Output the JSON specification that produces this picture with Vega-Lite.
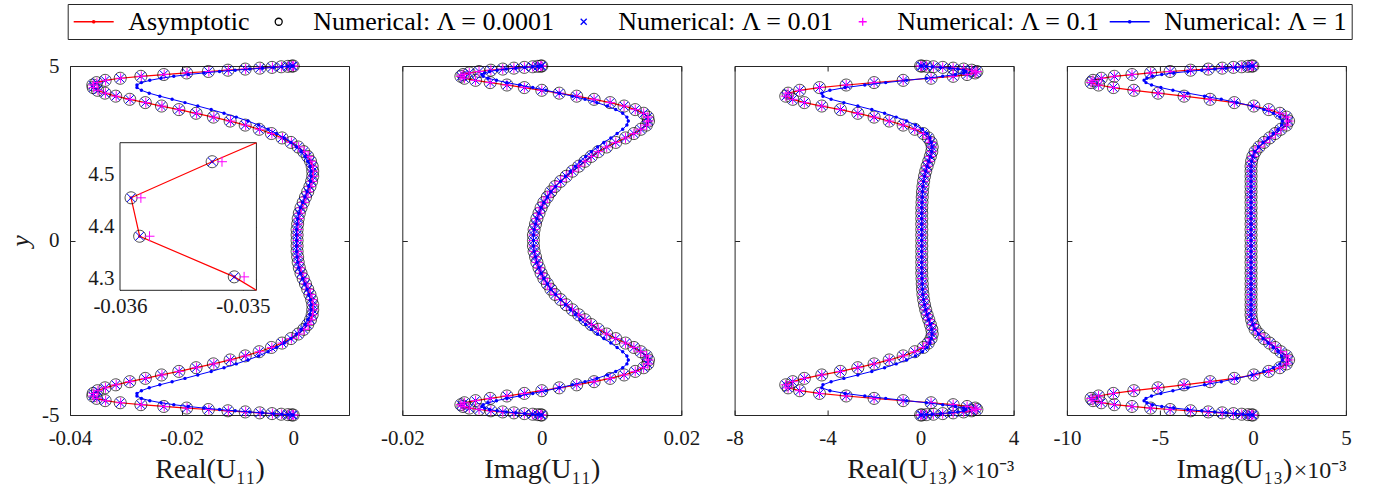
{
"$schema": "https://vega.github.io/schema/vega-lite/v6.json",
"padding": {"left": 7, "top": 3, "right": 5, "bottom": 5},
"background": "white",
"datasets": {"u": [
{"y":5,"a1":0,"p1":0.00008,"b1":0,"a2":0,"b2":0,"a3":0,"b3":0,"a4":0,"b4":0},
{"y":4.9975,"a1":-0.00024,"p1":-0.00016,"b1":-0.00022,"a2":-0.00015,"b2":-0.00015,"a3":0.06,"b3":0.05,"a4":-0.07,"b4":-0.06},
{"y":4.9901,"a1":-0.00096,"p1":-0.00088,"b1":-0.0009,"a2":-0.0006,"b2":-0.0006,"a3":0.25,"b3":0.23,"a4":-0.27,"b4":-0.24},
{"y":4.9778,"a1":-0.00215,"p1":-0.00207,"b1":-0.002,"a2":-0.0013,"b2":-0.0013,"a3":0.55,"b3":0.5,"a4":-0.6,"b4":-0.53},
{"y":4.9606,"a1":-0.0038,"p1":-0.00372,"b1":-0.0035,"a2":-0.0025,"b2":-0.0024,"a3":0.95,"b3":0.85,"a4":-1.05,"b4":-0.93},
{"y":4.9384,"a1":-0.006,"p1":-0.00592,"b1":-0.0055,"a2":-0.004,"b2":-0.0037,"a3":1.4,"b3":1.25,"a4":-1.65,"b4":-1.45},
{"y":4.9114,"a1":-0.0086,"p1":-0.00852,"b1":-0.0078,"a2":-0.0056,"b2":-0.0051,"a3":1.85,"b3":1.6,"a4":-2.4,"b4":-2.05},
{"y":4.8796,"a1":-0.0117,"p1":-0.01162,"b1":-0.0104,"a2":-0.0073,"b2":-0.0064,"a3":2.2,"b3":1.85,"a4":-3.35,"b4":-2.75},
{"y":4.8429,"a1":-0.0152,"p1":-0.01512,"b1":-0.0132,"a2":-0.009,"b2":-0.0075,"a3":2.42,"b3":1.95,"a4":-4.45,"b4":-3.5},
{"y":4.8015,"a1":-0.0191,"p1":-0.01902,"b1":-0.016,"a2":-0.0104,"b2":-0.0082,"a3":2.35,"b3":1.85,"a4":-5.5,"b4":-4.25},
{"y":4.7553,"a1":-0.0232,"p1":-0.02312,"b1":-0.0188,"a2":-0.0113,"b2":-0.0086,"a3":2.0,"b3":1.5,"a4":-6.5,"b4":-4.9},
{"y":4.7044,"a1":-0.0273,"p1":-0.02722,"b1":-0.0214,"a2":-0.0116,"b2":-0.0084,"a3":1.4,"b3":0.95,"a4":-7.45,"b4":-5.4},
{"y":4.6489,"a1":-0.031,"p1":-0.03092,"b1":-0.0237,"a2":-0.0111,"b2":-0.0077,"a3":0.45,"b3":0.25,"a4":-8.15,"b4":-5.7},
{"y":4.5888,"a1":-0.0337,"p1":-0.03362,"b1":-0.0257,"a2":-0.0095,"b2":-0.0065,"a3":-0.75,"b3":-0.6,"a4":-8.6,"b4":-5.85},
{"y":4.5241,"a1":-0.03525,"p1":-0.03517,"b1":-0.0272,"a2":-0.0074,"b2":-0.005,"a3":-2.0,"b3":-1.5,"a4":-8.7,"b4":-5.75},
{"y":4.455,"a1":-0.03591,"p1":-0.03583,"b1":-0.028,"a2":-0.005,"b2":-0.0032,"a3":-3.2,"b3":-2.4,"a4":-8.3,"b4":-5.45},
{"y":4.3815,"a1":-0.03584,"p1":-0.03576,"b1":-0.028,"a2":-0.0025,"b2":-0.0013,"a3":-4.35,"b3":-3.25,"a4":-7.5,"b4":-4.95},
{"y":4.3037,"a1":-0.03507,"p1":-0.03499,"b1":-0.0272,"a2":0,"b2":0.0006,"a3":-5.2,"b3":-3.9,"a4":-6.4,"b4":-4.3},
{"y":4.2216,"a1":-0.03373,"p1":-0.03365,"b1":-0.0258,"a2":0.0025,"b2":0.0025,"a3":-5.7,"b3":-4.25,"a4":-5.1,"b4":-3.5},
{"y":4.1354,"a1":-0.0318,"p1":-0.03172,"b1":-0.0239,"a2":0.005,"b2":0.0044,"a3":-5.8,"b3":-4.2,"a4":-3.7,"b4":-2.6},
{"y":4.0451,"a1":-0.0293,"p1":-0.02922,"b1":-0.0217,"a2":0.0075,"b2":0.0062,"a3":-5.5,"b3":-3.85,"a4":-2.3,"b4":-1.7},
{"y":3.9508,"a1":-0.0265,"p1":-0.02642,"b1":-0.0194,"a2":0.0098,"b2":0.0079,"a3":-5.0,"b3":-3.3,"a4":-1.0,"b4":-0.85},
{"y":3.8526,"a1":-0.0236,"p1":-0.02352,"b1":-0.0171,"a2":0.0118,"b2":0.0094,"a3":-4.25,"b3":-2.7,"a4":0.05,"b4":-0.05},
{"y":3.7505,"a1":-0.0205,"p1":-0.02042,"b1":-0.0147,"a2":0.0134,"b2":0.0106,"a3":-3.45,"b3":-2.1,"a4":0.85,"b4":0.6},
{"y":3.6448,"a1":-0.0174,"p1":-0.01732,"b1":-0.0124,"a2":0.0146,"b2":0.0116,"a3":-2.7,"b3":-1.55,"a4":1.45,"b4":1.1},
{"y":3.5355,"a1":-0.0143,"p1":-0.01422,"b1":-0.0102,"a2":0.0152,"b2":0.0122,"a3":-2.0,"b3":-1.05,"a4":1.8,"b4":1.45},
{"y":3.4227,"a1":-0.0113,"p1":-0.01122,"b1":-0.0081,"a2":0.0153,"b2":0.0124,"a3":-1.35,"b3":-0.6,"a4":1.92,"b4":1.58},
{"y":3.3066,"a1":-0.0086,"p1":-0.00852,"b1":-0.0062,"a2":0.015,"b2":0.0122,"a3":-0.75,"b3":-0.22,"a4":1.8,"b4":1.55},
{"y":3.1871,"a1":-0.0061,"p1":-0.00602,"b1":-0.0045,"a2":0.0142,"b2":0.0116,"a3":-0.25,"b3":0.08,"a4":1.5,"b4":1.35},
{"y":3.0645,"a1":-0.0039,"p1":-0.00382,"b1":-0.003,"a2":0.0132,"b2":0.0108,"a3":0.12,"b3":0.28,"a4":1.2,"b4":1.1},
{"y":2.9389,"a1":-0.002,"p1":-0.00192,"b1":-0.0016,"a2":0.012,"b2":0.0099,"a3":0.33,"b3":0.4,"a4":0.9,"b4":0.82},
{"y":2.8104,"a1":-0.0004,"p1":-0.00032,"b1":-0.0004,"a2":0.0106,"b2":0.0089,"a3":0.45,"b3":0.46,"a4":0.6,"b4":0.55},
{"y":2.6791,"a1":0.0009,"p1":0.00098,"b1":0.0006,"a2":0.0093,"b2":0.008,"a3":0.5,"b3":0.49,"a4":0.33,"b4":0.3},
{"y":2.5452,"a1":0.0019,"p1":0.00198,"b1":0.0014,"a2":0.0081,"b2":0.0071,"a3":0.48,"b3":0.48,"a4":0.12,"b4":0.1},
{"y":2.4088,"a1":0.0026,"p1":0.00268,"b1":0.0021,"a2":0.0071,"b2":0.0063,"a3":0.42,"b3":0.42,"a4":0,"b4":0},
{"y":2.27,"a1":0.0031,"p1":0.00318,"b1":0.0026,"a2":0.0062,"b2":0.0055,"a3":0.35,"b3":0.35,"a4":-0.07,"b4":-0.07},
{"y":2.1289,"a1":0.0034,"p1":0.00348,"b1":0.003,"a2":0.0053,"b2":0.0048,"a3":0.28,"b3":0.28,"a4":-0.1,"b4":-0.1},
{"y":1.9857,"a1":0.0035,"p1":0.00358,"b1":0.0032,"a2":0.0044,"b2":0.0041,"a3":0.22,"b3":0.22,"a4":-0.1,"b4":-0.1},
{"y":1.8406,"a1":0.0035,"p1":0.00358,"b1":0.0032,"a2":0.0035,"b2":0.0034,"a3":0.17,"b3":0.17,"a4":-0.1,"b4":-0.1},
{"y":1.6937,"a1":0.0033,"p1":0.00338,"b1":0.0031,"a2":0.0027,"b2":0.0027,"a3":0.13,"b3":0.13,"a4":-0.1,"b4":-0.1},
{"y":1.5451,"a1":0.003,"p1":0.00308,"b1":0.0028,"a2":0.0019,"b2":0.002,"a3":0.1,"b3":0.1,"a4":-0.1,"b4":-0.1},
{"y":1.395,"a1":0.0026,"p1":0.00268,"b1":0.0025,"a2":0.0013,"b2":0.0013,"a3":0.08,"b3":0.08,"a4":-0.1,"b4":-0.1},
{"y":1.2434,"a1":0.0022,"p1":0.00228,"b1":0.0021,"a2":0.0008,"b2":0.0008,"a3":0.07,"b3":0.07,"a4":-0.1,"b4":-0.1},
{"y":1.0907,"a1":0.0018,"p1":0.00188,"b1":0.0017,"a2":0.0003,"b2":0.0003,"a3":0.06,"b3":0.06,"a4":-0.1,"b4":-0.1},
{"y":0.9369,"a1":0.0014,"p1":0.00148,"b1":0.0013,"a2":-0.0001,"b2":-0.0001,"a3":0.05,"b3":0.05,"a4":-0.1,"b4":-0.1},
{"y":0.7822,"a1":0.0011,"p1":0.00118,"b1":0.001,"a2":-0.0004,"b2":-0.0004,"a3":0.05,"b3":0.05,"a4":-0.1,"b4":-0.1},
{"y":0.6267,"a1":0.0009,"p1":0.00098,"b1":0.0008,"a2":-0.0007,"b2":-0.0007,"a3":0.05,"b3":0.05,"a4":-0.1,"b4":-0.1},
{"y":0.4705,"a1":0.0008,"p1":0.00088,"b1":0.0007,"a2":-0.0009,"b2":-0.0009,"a3":0.05,"b3":0.05,"a4":-0.1,"b4":-0.1},
{"y":0.314,"a1":0.0007,"p1":0.00078,"b1":0.0006,"a2":-0.0011,"b2":-0.0011,"a3":0.05,"b3":0.05,"a4":-0.1,"b4":-0.1},
{"y":0.1571,"a1":0.0007,"p1":0.00078,"b1":0.0006,"a2":-0.0012,"b2":-0.0012,"a3":0.05,"b3":0.05,"a4":-0.1,"b4":-0.1},
{"y":0,"a1":0.0007,"p1":0.00078,"b1":0.0006,"a2":-0.0012,"b2":-0.0012,"a3":0.05,"b3":0.05,"a4":-0.1,"b4":-0.1},
{"y":-0.1571,"a1":0.0007,"p1":0.00078,"b1":0.0006,"a2":-0.0012,"b2":-0.0012,"a3":0.05,"b3":0.05,"a4":-0.1,"b4":-0.1},
{"y":-0.314,"a1":0.0007,"p1":0.00078,"b1":0.0006,"a2":-0.0011,"b2":-0.0011,"a3":0.05,"b3":0.05,"a4":-0.1,"b4":-0.1},
{"y":-0.4705,"a1":0.0008,"p1":0.00088,"b1":0.0007,"a2":-0.0009,"b2":-0.0009,"a3":0.05,"b3":0.05,"a4":-0.1,"b4":-0.1},
{"y":-0.6267,"a1":0.0009,"p1":0.00098,"b1":0.0008,"a2":-0.0007,"b2":-0.0007,"a3":0.05,"b3":0.05,"a4":-0.1,"b4":-0.1},
{"y":-0.7822,"a1":0.0011,"p1":0.00118,"b1":0.001,"a2":-0.0004,"b2":-0.0004,"a3":0.05,"b3":0.05,"a4":-0.1,"b4":-0.1},
{"y":-0.9369,"a1":0.0014,"p1":0.00148,"b1":0.0013,"a2":-0.0001,"b2":-0.0001,"a3":0.05,"b3":0.05,"a4":-0.1,"b4":-0.1},
{"y":-1.0907,"a1":0.0018,"p1":0.00188,"b1":0.0017,"a2":0.0003,"b2":0.0003,"a3":0.06,"b3":0.06,"a4":-0.1,"b4":-0.1},
{"y":-1.2434,"a1":0.0022,"p1":0.00228,"b1":0.0021,"a2":0.0008,"b2":0.0008,"a3":0.07,"b3":0.07,"a4":-0.1,"b4":-0.1},
{"y":-1.395,"a1":0.0026,"p1":0.00268,"b1":0.0025,"a2":0.0013,"b2":0.0013,"a3":0.08,"b3":0.08,"a4":-0.1,"b4":-0.1},
{"y":-1.5451,"a1":0.003,"p1":0.00308,"b1":0.0028,"a2":0.0019,"b2":0.002,"a3":0.1,"b3":0.1,"a4":-0.1,"b4":-0.1},
{"y":-1.6937,"a1":0.0033,"p1":0.00338,"b1":0.0031,"a2":0.0027,"b2":0.0027,"a3":0.13,"b3":0.13,"a4":-0.1,"b4":-0.1},
{"y":-1.8406,"a1":0.0035,"p1":0.00358,"b1":0.0032,"a2":0.0035,"b2":0.0034,"a3":0.17,"b3":0.17,"a4":-0.1,"b4":-0.1},
{"y":-1.9857,"a1":0.0035,"p1":0.00358,"b1":0.0032,"a2":0.0044,"b2":0.0041,"a3":0.22,"b3":0.22,"a4":-0.1,"b4":-0.1},
{"y":-2.1289,"a1":0.0034,"p1":0.00348,"b1":0.003,"a2":0.0053,"b2":0.0048,"a3":0.28,"b3":0.28,"a4":-0.1,"b4":-0.1},
{"y":-2.27,"a1":0.0031,"p1":0.00318,"b1":0.0026,"a2":0.0062,"b2":0.0055,"a3":0.35,"b3":0.35,"a4":-0.07,"b4":-0.07},
{"y":-2.4088,"a1":0.0026,"p1":0.00268,"b1":0.0021,"a2":0.0071,"b2":0.0063,"a3":0.42,"b3":0.42,"a4":0,"b4":0},
{"y":-2.5452,"a1":0.0019,"p1":0.00198,"b1":0.0014,"a2":0.0081,"b2":0.0071,"a3":0.48,"b3":0.48,"a4":0.12,"b4":0.1},
{"y":-2.6791,"a1":0.0009,"p1":0.00098,"b1":0.0006,"a2":0.0093,"b2":0.008,"a3":0.5,"b3":0.49,"a4":0.33,"b4":0.3},
{"y":-2.8104,"a1":-0.0004,"p1":-0.00032,"b1":-0.0004,"a2":0.0106,"b2":0.0089,"a3":0.45,"b3":0.46,"a4":0.6,"b4":0.55},
{"y":-2.9389,"a1":-0.002,"p1":-0.00192,"b1":-0.0016,"a2":0.012,"b2":0.0099,"a3":0.33,"b3":0.4,"a4":0.9,"b4":0.82},
{"y":-3.0645,"a1":-0.0039,"p1":-0.00382,"b1":-0.003,"a2":0.0132,"b2":0.0108,"a3":0.12,"b3":0.28,"a4":1.2,"b4":1.1},
{"y":-3.1871,"a1":-0.0061,"p1":-0.00602,"b1":-0.0045,"a2":0.0142,"b2":0.0116,"a3":-0.25,"b3":0.08,"a4":1.5,"b4":1.35},
{"y":-3.3066,"a1":-0.0086,"p1":-0.00852,"b1":-0.0062,"a2":0.015,"b2":0.0122,"a3":-0.75,"b3":-0.22,"a4":1.8,"b4":1.55},
{"y":-3.4227,"a1":-0.0113,"p1":-0.01122,"b1":-0.0081,"a2":0.0153,"b2":0.0124,"a3":-1.35,"b3":-0.6,"a4":1.92,"b4":1.58},
{"y":-3.5355,"a1":-0.0143,"p1":-0.01422,"b1":-0.0102,"a2":0.0152,"b2":0.0122,"a3":-2.0,"b3":-1.05,"a4":1.8,"b4":1.45},
{"y":-3.6448,"a1":-0.0174,"p1":-0.01732,"b1":-0.0124,"a2":0.0146,"b2":0.0116,"a3":-2.7,"b3":-1.55,"a4":1.45,"b4":1.1},
{"y":-3.7505,"a1":-0.0205,"p1":-0.02042,"b1":-0.0147,"a2":0.0134,"b2":0.0106,"a3":-3.45,"b3":-2.1,"a4":0.85,"b4":0.6},
{"y":-3.8526,"a1":-0.0236,"p1":-0.02352,"b1":-0.0171,"a2":0.0118,"b2":0.0094,"a3":-4.25,"b3":-2.7,"a4":0.05,"b4":-0.05},
{"y":-3.9508,"a1":-0.0265,"p1":-0.02642,"b1":-0.0194,"a2":0.0098,"b2":0.0079,"a3":-5.0,"b3":-3.3,"a4":-1.0,"b4":-0.85},
{"y":-4.0451,"a1":-0.0293,"p1":-0.02922,"b1":-0.0217,"a2":0.0075,"b2":0.0062,"a3":-5.5,"b3":-3.85,"a4":-2.3,"b4":-1.7},
{"y":-4.1354,"a1":-0.0318,"p1":-0.03172,"b1":-0.0239,"a2":0.005,"b2":0.0044,"a3":-5.8,"b3":-4.2,"a4":-3.7,"b4":-2.6},
{"y":-4.2216,"a1":-0.03373,"p1":-0.03365,"b1":-0.0258,"a2":0.0025,"b2":0.0025,"a3":-5.7,"b3":-4.25,"a4":-5.1,"b4":-3.5},
{"y":-4.3037,"a1":-0.03507,"p1":-0.03499,"b1":-0.0272,"a2":0,"b2":0.0006,"a3":-5.2,"b3":-3.9,"a4":-6.4,"b4":-4.3},
{"y":-4.3815,"a1":-0.03584,"p1":-0.03576,"b1":-0.028,"a2":-0.0025,"b2":-0.0013,"a3":-4.35,"b3":-3.25,"a4":-7.5,"b4":-4.95},
{"y":-4.455,"a1":-0.03591,"p1":-0.03583,"b1":-0.028,"a2":-0.005,"b2":-0.0032,"a3":-3.2,"b3":-2.4,"a4":-8.3,"b4":-5.45},
{"y":-4.5241,"a1":-0.03525,"p1":-0.03517,"b1":-0.0272,"a2":-0.0074,"b2":-0.005,"a3":-2.0,"b3":-1.5,"a4":-8.7,"b4":-5.75},
{"y":-4.5888,"a1":-0.0337,"p1":-0.03362,"b1":-0.0257,"a2":-0.0095,"b2":-0.0065,"a3":-0.75,"b3":-0.6,"a4":-8.6,"b4":-5.85},
{"y":-4.6489,"a1":-0.031,"p1":-0.03092,"b1":-0.0237,"a2":-0.0111,"b2":-0.0077,"a3":0.45,"b3":0.25,"a4":-8.15,"b4":-5.7},
{"y":-4.7044,"a1":-0.0273,"p1":-0.02722,"b1":-0.0214,"a2":-0.0116,"b2":-0.0084,"a3":1.4,"b3":0.95,"a4":-7.45,"b4":-5.4},
{"y":-4.7553,"a1":-0.0232,"p1":-0.02312,"b1":-0.0188,"a2":-0.0113,"b2":-0.0086,"a3":2.0,"b3":1.5,"a4":-6.5,"b4":-4.9},
{"y":-4.8015,"a1":-0.0191,"p1":-0.01902,"b1":-0.016,"a2":-0.0104,"b2":-0.0082,"a3":2.35,"b3":1.85,"a4":-5.5,"b4":-4.25},
{"y":-4.8429,"a1":-0.0152,"p1":-0.01512,"b1":-0.0132,"a2":-0.009,"b2":-0.0075,"a3":2.42,"b3":1.95,"a4":-4.45,"b4":-3.5},
{"y":-4.8796,"a1":-0.0117,"p1":-0.01162,"b1":-0.0104,"a2":-0.0073,"b2":-0.0064,"a3":2.2,"b3":1.85,"a4":-3.35,"b4":-2.75},
{"y":-4.9114,"a1":-0.0086,"p1":-0.00852,"b1":-0.0078,"a2":-0.0056,"b2":-0.0051,"a3":1.85,"b3":1.6,"a4":-2.4,"b4":-2.05},
{"y":-4.9384,"a1":-0.006,"p1":-0.00592,"b1":-0.0055,"a2":-0.004,"b2":-0.0037,"a3":1.4,"b3":1.25,"a4":-1.65,"b4":-1.45},
{"y":-4.9606,"a1":-0.0038,"p1":-0.00372,"b1":-0.0035,"a2":-0.0025,"b2":-0.0024,"a3":0.95,"b3":0.85,"a4":-1.05,"b4":-0.93},
{"y":-4.9778,"a1":-0.00215,"p1":-0.00207,"b1":-0.002,"a2":-0.0013,"b2":-0.0013,"a3":0.55,"b3":0.5,"a4":-0.6,"b4":-0.53},
{"y":-4.9901,"a1":-0.00096,"p1":-0.00088,"b1":-0.0009,"a2":-0.0006,"b2":-0.0006,"a3":0.25,"b3":0.23,"a4":-0.27,"b4":-0.24},
{"y":-4.9975,"a1":-0.00024,"p1":-0.00016,"b1":-0.00022,"a2":-0.00015,"b2":-0.00015,"a3":0.06,"b3":0.05,"a4":-0.07,"b4":-0.06},
{"y":-5,"a1":0,"p1":0.00008,"b1":0,"a2":0,"b2":0,"a3":0,"b3":0,"a4":0,"b4":0}
]},
"data": {"name": "u"},
"bounds": "flush",
"spacing": 53.3,
"hconcat": [
{
"width": 279, "height": 349,
"resolve": {"scale": {"x": "independent", "y": "independent"}},
"layer": [
{"mark": {"type": "line", "strokeWidth": 1.2, "opacity": 1},
 "encoding": {
  "x": {"field": "a1", "type": "quantitative", "scale": {"domain": [-0.04, 0.01], "nice": false, "zero": false},
        "axis": {"orient": "bottom", "values": [-0.04, -0.02, 0], "title": "Real(U\u2081\u2081)", "labelExpr": "replace(format(datum.value, '~g'), '\u2212', '-')", "titleY": 62, "titleBaseline": "alphabetic"}},
  "y": {"field": "y", "type": "quantitative", "scale": {"domain": [-5, 5], "nice": false, "zero": false},
        "axis": {"orient": "left", "values": [-5, 0, 5], "title": "y", "titleFontStyle": "italic", "titleFontSize": 26, "titlePadding": 8, "labelPadding": 16, "labelExpr": "replace(format(datum.value, '~g'), '\u2212', '-')"}},
  "order": {"field": "y", "type": "quantitative"},
  "color": {"datum": "Asymptotic", "scale": {"domain": ["Asymptotic", "Numerical: \u039b = 0.0001", "Numerical: \u039b = 0.01", "Numerical: \u039b = 0.1", "Numerical: \u039b = 1"], "range": ["#ff0000", "#000000", "#0000ff", "#ff00ff", "#0000ff"]}, "legend": {"title": null}}}},
{"mark": {"type": "point", "shape": "circle", "filled": true, "size": 10, "opacity": 1, "color": "#ff0000"},
 "encoding": {
  "x": {"field": "a1", "type": "quantitative", "scale": {"domain": [-0.04, 0.01], "nice": false, "zero": false}, "axis": null},
  "y": {"field": "y", "type": "quantitative", "scale": {"domain": [-5, 5], "nice": false, "zero": false}, "axis": null}}},
{"mark": {"type": "point", "filled": false, "size": 1837, "strokeWidth": 0.7, "opacity": 1},
 "encoding": {
  "x": {"field": "a1", "type": "quantitative", "scale": {"domain": [-0.04, 0.01], "nice": false, "zero": false}, "axis": null},
  "y": {"field": "y", "type": "quantitative", "scale": {"domain": [-5, 5], "nice": false, "zero": false}, "axis": null},
  "color": {"datum": "Numerical: \u039b = 0.0001", "legend": {"title": null}},
  "shape": {"datum": "Numerical: \u039b = 0.0001", "scale": {"domain": ["Asymptotic", "Numerical: \u039b = 0.0001", "Numerical: \u039b = 0.01", "Numerical: \u039b = 0.1", "Numerical: \u039b = 1"], "range": ["M-1.6,0L1.6,0M-0.096,0A0.096,0.096,0,1,1,0.096,0A0.096,0.096,0,1,1,-0.096,0Z", "M-0.28,0A0.28,0.28,0,1,1,0.28,0A0.28,0.28,0,1,1,-0.28,0Z", "M-0.24,-0.24L0.24,0.24M-0.24,0.24L0.24,-0.24", "M-0.32,0L0.32,0M0,-0.32L0,0.32", "M-1.6,0L1.6,0M-0.096,0A0.096,0.096,0,1,1,0.096,0A0.096,0.096,0,1,1,-0.096,0Z"]}, "legend": {"title": null}}}},
{"mark": {"type": "point", "filled": false, "size": 1225, "strokeWidth": 1, "opacity": 1},
 "encoding": {
  "x": {"field": "a1", "type": "quantitative", "scale": {"domain": [-0.04, 0.01], "nice": false, "zero": false}, "axis": null},
  "y": {"field": "y", "type": "quantitative", "scale": {"domain": [-5, 5], "nice": false, "zero": false}, "axis": null},
  "color": {"datum": "Numerical: \u039b = 0.01", "legend": {"title": null}},
  "shape": {"datum": "Numerical: \u039b = 0.01", "legend": {"title": null}}}},
{"mark": {"type": "point", "filled": false, "size": 977, "strokeWidth": 1, "opacity": 1},
 "encoding": {
  "x": {"field": "p1", "type": "quantitative", "scale": {"domain": [-0.04, 0.01], "nice": false, "zero": false}, "axis": null},
  "y": {"field": "y", "type": "quantitative", "scale": {"domain": [-5, 5], "nice": false, "zero": false}, "axis": null},
  "color": {"datum": "Numerical: \u039b = 0.1", "legend": {"title": null}},
  "shape": {"datum": "Numerical: \u039b = 0.1", "legend": {"title": null}}}},
{"mark": {"type": "line", "strokeWidth": 1, "opacity": 1},
 "encoding": {
  "x": {"field": "b1", "type": "quantitative", "scale": {"domain": [-0.04, 0.01], "nice": false, "zero": false}, "axis": {"orient": "top", "values": [-0.04, -0.02, 0], "labels": false, "title": null}},
  "y": {"field": "y", "type": "quantitative", "scale": {"domain": [-5, 5], "nice": false, "zero": false}, "axis": {"orient": "right", "values": [-5, 0, 5], "labels": false, "title": null}},
  "order": {"field": "y", "type": "quantitative"},
  "color": {"datum": "Numerical: \u039b = 1", "legend": {"title": null}}}},
{"mark": {"type": "point", "shape": "circle", "filled": true, "size": 12, "opacity": 1, "color": "#0000ff"},
 "encoding": {
  "x": {"field": "b1", "type": "quantitative", "scale": {"domain": [-0.04, 0.01], "nice": false, "zero": false}, "axis": null},
  "y": {"field": "y", "type": "quantitative", "scale": {"domain": [-5, 5], "nice": false, "zero": false}, "axis": null}}},
{"data": {"values": [{}]},
 "mark": {"type": "rect", "fill": "white", "stroke": "#262626", "strokeWidth": 1},
 "encoding": {
  "x": {"datum": -0.036, "type": "quantitative", "scale": {"domain": [-0.036, -0.03489], "range": [50, 186.4], "nice": false, "zero": false}, "axis": {"orient": "top", "offset": -76.7, "values": [-0.036, -0.0355, -0.035], "labels": false, "title": null}},
  "x2": {"datum": -0.03489},
  "y": {"datum": 4.278, "type": "quantitative", "scale": {"domain": [4.278, 4.5605], "range": [224.3, 76.7], "nice": false, "zero": false}, "axis": {"orient": "right", "offset": -92.6, "values": [4.3, 4.4, 4.5], "labels": false, "title": null}},
  "y2": {"datum": 4.5605}}},
{"transform": [{"filter": {"field": "y", "range": [4.2, 4.6]}}],
 "mark": {"type": "line", "strokeWidth": 1.2, "opacity": 1},
 "encoding": {
  "x": {"field": "a1", "type": "quantitative", "scale": {"domain": [-0.036, -0.03489], "range": [50, 186.4], "nice": false, "zero": false, "clamp": true},
        "axis": {"orient": "bottom", "offset": -124.7, "values": [-0.036, -0.0355, -0.035], "title": null, "labelPadding": 10, "labelExpr": "datum.value == -0.0355 ? '' : replace(format(datum.value, '~g'), '\u2212', '-')"}},
  "y": {"field": "y", "type": "quantitative", "scale": {"domain": [4.278, 4.5605], "range": [224.3, 76.7], "nice": false, "zero": false, "clamp": true},
        "axis": {"orient": "left", "offset": -50, "values": [4.3, 4.4, 4.5], "title": null, "labelPadding": 11, "labelExpr": "format(datum.value, '.1f')"}},
  "order": {"field": "y", "type": "quantitative"},
  "color": {"datum": "Asymptotic", "legend": {"title": null}}}},
{"transform": [{"filter": {"field": "y", "range": [4.278, 4.5605]}}],
 "mark": {"type": "point", "shape": "circle", "filled": true, "size": 10, "opacity": 1, "color": "#ff0000"},
 "encoding": {
  "x": {"field": "a1", "type": "quantitative", "scale": {"domain": [-0.036, -0.03489], "range": [50, 186.4], "nice": false, "zero": false}, "axis": null},
  "y": {"field": "y", "type": "quantitative", "scale": {"domain": [4.278, 4.5605], "range": [224.3, 76.7], "nice": false, "zero": false}, "axis": null}}},
{"transform": [{"filter": {"field": "y", "range": [4.278, 4.5605]}}],
 "mark": {"type": "point", "filled": false, "size": 1837, "strokeWidth": 0.7, "opacity": 1},
 "encoding": {
  "x": {"field": "a1", "type": "quantitative", "scale": {"domain": [-0.036, -0.03489], "range": [50, 186.4], "nice": false, "zero": false}, "axis": null},
  "y": {"field": "y", "type": "quantitative", "scale": {"domain": [4.278, 4.5605], "range": [224.3, 76.7], "nice": false, "zero": false}, "axis": null},
  "color": {"datum": "Numerical: \u039b = 0.0001", "legend": {"title": null}},
  "shape": {"datum": "Numerical: \u039b = 0.0001", "legend": {"title": null}}}},
{"transform": [{"filter": {"field": "y", "range": [4.278, 4.5605]}}],
 "mark": {"type": "point", "filled": false, "size": 1225, "strokeWidth": 1, "opacity": 1},
 "encoding": {
  "x": {"field": "a1", "type": "quantitative", "scale": {"domain": [-0.036, -0.03489], "range": [50, 186.4], "nice": false, "zero": false}, "axis": null},
  "y": {"field": "y", "type": "quantitative", "scale": {"domain": [4.278, 4.5605], "range": [224.3, 76.7], "nice": false, "zero": false}, "axis": null},
  "color": {"datum": "Numerical: \u039b = 0.01", "legend": {"title": null}},
  "shape": {"datum": "Numerical: \u039b = 0.01", "legend": {"title": null}}}},
{"transform": [{"filter": {"field": "y", "range": [4.278, 4.5605]}}],
 "mark": {"type": "point", "filled": false, "size": 977, "strokeWidth": 1, "opacity": 1},
 "encoding": {
  "x": {"field": "p1", "type": "quantitative", "scale": {"domain": [-0.036, -0.03489], "range": [50, 186.4], "nice": false, "zero": false}, "axis": null},
  "y": {"field": "y", "type": "quantitative", "scale": {"domain": [4.278, 4.5605], "range": [224.3, 76.7], "nice": false, "zero": false}, "axis": null},
  "color": {"datum": "Numerical: \u039b = 0.1", "legend": {"title": null}},
  "shape": {"datum": "Numerical: \u039b = 0.1", "legend": {"title": null}}}}
]
},
{
"width": 279, "height": 349,
"resolve": {"axis": {"x": "independent", "y": "independent"}},
"encoding": {
  "y": {"field": "y", "type": "quantitative", "scale": {"domain": [-5, 5], "nice": false, "zero": false}}
},
"layer": [
{"mark": {"type": "line", "strokeWidth": 1.2, "opacity": 1},
 "encoding": {
  "x": {"field": "a2", "type": "quantitative", "scale": {"domain": [-0.02, 0.02], "nice": false, "zero": false},
        "axis": {"orient": "bottom", "values": [-0.02, 0, 0.02], "title": "Imag(U\u2081\u2081)", "labelExpr": "replace(format(datum.value, '~g'), '\u2212', '-')", "titleY": 62, "titleBaseline": "alphabetic"}},
  "y": {"field": "y", "type": "quantitative", "axis": {"orient": "left", "values": [-5, 0, 5], "labels": false, "title": null}},
  "order": {"field": "y", "type": "quantitative"},
  "color": {"datum": "Asymptotic", "legend": {"title": null}}}},
{"mark": {"type": "point", "shape": "circle", "filled": true, "size": 10, "opacity": 1, "color": "#ff0000"},
 "encoding": {"x": {"field": "a2", "type": "quantitative", "axis": null}, "y": {"field": "y", "type": "quantitative", "axis": null}}},
{"mark": {"type": "point", "filled": false, "size": 1837, "strokeWidth": 0.7, "opacity": 1},
 "encoding": {"x": {"field": "a2", "type": "quantitative", "axis": null}, "y": {"field": "y", "type": "quantitative", "axis": null},
  "color": {"datum": "Numerical: \u039b = 0.0001", "legend": {"title": null}}, "shape": {"datum": "Numerical: \u039b = 0.0001", "legend": {"title": null}}}},
{"mark": {"type": "point", "filled": false, "size": 1225, "strokeWidth": 1, "opacity": 1},
 "encoding": {"x": {"field": "a2", "type": "quantitative", "axis": null}, "y": {"field": "y", "type": "quantitative", "axis": null},
  "color": {"datum": "Numerical: \u039b = 0.01", "legend": {"title": null}}, "shape": {"datum": "Numerical: \u039b = 0.01", "legend": {"title": null}}}},
{"mark": {"type": "point", "filled": false, "size": 977, "strokeWidth": 1, "opacity": 1},
 "encoding": {"x": {"field": "a2", "type": "quantitative", "axis": null}, "y": {"field": "y", "type": "quantitative", "axis": null},
  "color": {"datum": "Numerical: \u039b = 0.1", "legend": {"title": null}}, "shape": {"datum": "Numerical: \u039b = 0.1", "legend": {"title": null}}}},
{"mark": {"type": "line", "strokeWidth": 1, "opacity": 1},
 "encoding": {"x": {"field": "b2", "type": "quantitative", "axis": {"orient": "top", "values": [-0.02, 0, 0.02], "labels": false, "title": null}},
  "y": {"field": "y", "type": "quantitative", "axis": {"orient": "right", "values": [-5, 0, 5], "labels": false, "title": null}},
  "order": {"field": "y", "type": "quantitative"},
  "color": {"datum": "Numerical: \u039b = 1", "legend": {"title": null}}}},
{"mark": {"type": "point", "shape": "circle", "filled": true, "size": 12, "opacity": 1, "color": "#0000ff"},
 "encoding": {"x": {"field": "b2", "type": "quantitative", "axis": null}, "y": {"field": "y", "type": "quantitative", "axis": null}}}
]
},
{
"width": 279, "height": 349,
"resolve": {"axis": {"x": "independent", "y": "independent"}},
"encoding": {
  "y": {"field": "y", "type": "quantitative", "scale": {"domain": [-5, 5], "nice": false, "zero": false}}
},
"layer": [
{"mark": {"type": "line", "strokeWidth": 1.2, "opacity": 1},
 "encoding": {
  "x": {"field": "a3", "type": "quantitative", "scale": {"domain": [-8, 4], "nice": false, "zero": false},
        "axis": {"orient": "bottom", "values": [-8, -4, 0, 4], "title": "Real(U\u2081\u2083)", "labelExpr": "replace(format(datum.value, '~g'), '\u2212', '-')", "titleX": 167, "titleY": 62, "titleBaseline": "alphabetic"}},
  "y": {"field": "y", "type": "quantitative", "axis": {"orient": "left", "values": [-5, 0, 5], "labels": false, "title": null}},
  "order": {"field": "y", "type": "quantitative"},
  "color": {"datum": "Asymptotic", "legend": {"title": null}}}},
{"mark": {"type": "point", "shape": "circle", "filled": true, "size": 10, "opacity": 1, "color": "#ff0000"},
 "encoding": {"x": {"field": "a3", "type": "quantitative", "axis": null}, "y": {"field": "y", "type": "quantitative", "axis": null}}},
{"mark": {"type": "point", "filled": false, "size": 1837, "strokeWidth": 0.7, "opacity": 1},
 "encoding": {"x": {"field": "a3", "type": "quantitative", "axis": {"orient": "bottom", "labels": false, "ticks": false, "domain": false, "title": "\u00d710\u207b\u00b3", "titleX": 279, "titleY": 62, "titleAlign": "right", "titleBaseline": "alphabetic", "titleFontSize": 24}},
  "y": {"field": "y", "type": "quantitative", "axis": null},
  "color": {"datum": "Numerical: \u039b = 0.0001", "legend": {"title": null}}, "shape": {"datum": "Numerical: \u039b = 0.0001", "legend": {"title": null}}}},
{"mark": {"type": "point", "filled": false, "size": 1225, "strokeWidth": 1, "opacity": 1},
 "encoding": {"x": {"field": "a3", "type": "quantitative", "axis": null}, "y": {"field": "y", "type": "quantitative", "axis": null},
  "color": {"datum": "Numerical: \u039b = 0.01", "legend": {"title": null}}, "shape": {"datum": "Numerical: \u039b = 0.01", "legend": {"title": null}}}},
{"mark": {"type": "point", "filled": false, "size": 977, "strokeWidth": 1, "opacity": 1},
 "encoding": {"x": {"field": "a3", "type": "quantitative", "axis": null}, "y": {"field": "y", "type": "quantitative", "axis": null},
  "color": {"datum": "Numerical: \u039b = 0.1", "legend": {"title": null}}, "shape": {"datum": "Numerical: \u039b = 0.1", "legend": {"title": null}}}},
{"mark": {"type": "line", "strokeWidth": 1, "opacity": 1},
 "encoding": {"x": {"field": "b3", "type": "quantitative", "axis": {"orient": "top", "values": [-8, -4, 0, 4], "labels": false, "title": null}},
  "y": {"field": "y", "type": "quantitative", "axis": {"orient": "right", "values": [-5, 0, 5], "labels": false, "title": null}},
  "order": {"field": "y", "type": "quantitative"},
  "color": {"datum": "Numerical: \u039b = 1", "legend": {"title": null}}}},
{"mark": {"type": "point", "shape": "circle", "filled": true, "size": 12, "opacity": 1, "color": "#0000ff"},
 "encoding": {"x": {"field": "b3", "type": "quantitative", "axis": null}, "y": {"field": "y", "type": "quantitative", "axis": null}}}
]
},
{
"width": 279, "height": 349,
"resolve": {"axis": {"x": "independent", "y": "independent"}},
"encoding": {
  "y": {"field": "y", "type": "quantitative", "scale": {"domain": [-5, 5], "nice": false, "zero": false}}
},
"layer": [
{"mark": {"type": "line", "strokeWidth": 1.2, "opacity": 1},
 "encoding": {
  "x": {"field": "a4", "type": "quantitative", "scale": {"domain": [-10, 5], "nice": false, "zero": false},
        "axis": {"orient": "bottom", "values": [-10, -5, 0, 5], "title": "Imag(U\u2081\u2083)", "labelExpr": "replace(format(datum.value, '~g'), '\u2212', '-')", "titleX": 167, "titleY": 62, "titleBaseline": "alphabetic"}},
  "y": {"field": "y", "type": "quantitative", "axis": {"orient": "left", "values": [-5, 0, 5], "labels": false, "title": null}},
  "order": {"field": "y", "type": "quantitative"},
  "color": {"datum": "Asymptotic", "legend": {"title": null}}}},
{"mark": {"type": "point", "shape": "circle", "filled": true, "size": 10, "opacity": 1, "color": "#ff0000"},
 "encoding": {"x": {"field": "a4", "type": "quantitative", "axis": null}, "y": {"field": "y", "type": "quantitative", "axis": null}}},
{"mark": {"type": "point", "filled": false, "size": 1837, "strokeWidth": 0.7, "opacity": 1},
 "encoding": {"x": {"field": "a4", "type": "quantitative", "axis": {"orient": "bottom", "labels": false, "ticks": false, "domain": false, "title": "\u00d710\u207b\u00b3", "titleX": 279, "titleY": 62, "titleAlign": "right", "titleBaseline": "alphabetic", "titleFontSize": 24}},
  "y": {"field": "y", "type": "quantitative", "axis": null},
  "color": {"datum": "Numerical: \u039b = 0.0001", "legend": {"title": null}}, "shape": {"datum": "Numerical: \u039b = 0.0001", "legend": {"title": null}}}},
{"mark": {"type": "point", "filled": false, "size": 1225, "strokeWidth": 1, "opacity": 1},
 "encoding": {"x": {"field": "a4", "type": "quantitative", "axis": null}, "y": {"field": "y", "type": "quantitative", "axis": null},
  "color": {"datum": "Numerical: \u039b = 0.01", "legend": {"title": null}}, "shape": {"datum": "Numerical: \u039b = 0.01", "legend": {"title": null}}}},
{"mark": {"type": "point", "filled": false, "size": 977, "strokeWidth": 1, "opacity": 1},
 "encoding": {"x": {"field": "a4", "type": "quantitative", "axis": null}, "y": {"field": "y", "type": "quantitative", "axis": null},
  "color": {"datum": "Numerical: \u039b = 0.1", "legend": {"title": null}}, "shape": {"datum": "Numerical: \u039b = 0.1", "legend": {"title": null}}}},
{"mark": {"type": "line", "strokeWidth": 1, "opacity": 1},
 "encoding": {"x": {"field": "b4", "type": "quantitative", "axis": {"orient": "top", "values": [-10, -5, 0, 5], "labels": false, "title": null}},
  "y": {"field": "y", "type": "quantitative", "axis": {"orient": "right", "values": [-5, 0, 5], "labels": false, "title": null}},
  "order": {"field": "y", "type": "quantitative"},
  "color": {"datum": "Numerical: \u039b = 1", "legend": {"title": null}}}},
{"mark": {"type": "point", "shape": "circle", "filled": true, "size": 12, "opacity": 1, "color": "#0000ff"},
 "encoding": {"x": {"field": "b4", "type": "quantitative", "axis": null}, "y": {"field": "y", "type": "quantitative", "axis": null}}}
]
}
],
"config": {
  "font": "Liberation Serif",
  "view": {"stroke": "#262626", "strokeWidth": 1},
  "axis": {"labelFont": "Liberation Serif", "labelFontSize": 21, "labelColor": "#1a1a1a", "labelPadding": 17, "labelFlush": false, "labelOverlap": false, "tickColor": "#262626", "tickSize": -5, "tickWidth": 1, "domain": false, "grid": false, "titleFont": "Liberation Serif", "titleFontSize": 28, "titleFontWeight": "normal", "titleColor": "#1a1a1a"},
  "legend": {"orient": "none", "legendX": -2.3, "legendY": -62, "direction": "horizontal", "columns": 5, "columnPadding": 7, "symbolSize": 625, "symbolOffset": 8.5, "symbolStrokeWidth": 1.3, "symbolFillColor": "transparent", "labelFont": "Liberation Serif", "labelFontSize": 26, "labelColor": "#000000", "labelOffset": 21, "labelLimit": 0, "padding": 4, "strokeColor": "#262626", "fillColor": "#ffffff", "cornerRadius": 0, "symbolOpacity": 1}
}
}
